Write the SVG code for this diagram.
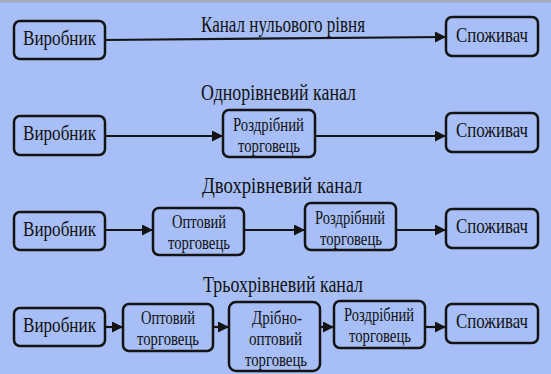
<svg xmlns="http://www.w3.org/2000/svg" width="551" height="374" viewBox="0 0 551 374">
<defs>
<style>
.bx{fill:#a7bff6;stroke:#141414;stroke-width:2.5}
.h{font-family:"Liberation Serif","DejaVu Serif",serif;fill:#111;font-size:23px}
.t{font-family:"Liberation Serif","DejaVu Serif",serif;fill:#111;font-size:22px}
.s{font-family:"Liberation Serif","DejaVu Serif",serif;fill:#111;font-size:19px}
.ln{stroke:#141414;stroke-width:2.2;fill:none}
</style>
<marker id="ah" viewBox="0 0 10 10" refX="10" refY="5" markerWidth="5.5" markerHeight="5" markerUnits="strokeWidth" orient="auto">
<path d="M0,0 L10,5 L0,10 Z" fill="#141414"/>
</marker>
</defs>
<rect width="551" height="374" fill="#a7bff6"/>
<rect width="551" height="2.5" fill="#a2a8b8"/>

<g id="titles">
<text class="h" x="201" y="32" textLength="164" lengthAdjust="spacingAndGlyphs">Канал нульового рівня</text>
<text class="h" x="201" y="100" textLength="155" lengthAdjust="spacingAndGlyphs">Однорівневий канал</text>
<text class="h" x="202" y="193" textLength="160" lengthAdjust="spacingAndGlyphs">Двохрівневий канал</text>
<text class="h" x="203" y="292" textLength="160" lengthAdjust="spacingAndGlyphs">Трьохрівневий канал</text>
</g>

<g id="connectors">
<line class="ln" x1="105" y1="40" x2="446" y2="37" marker-end="url(#ah)"/>
<line class="ln" x1="105" y1="136" x2="223" y2="136" marker-end="url(#ah)"/>
<line class="ln" x1="315" y1="136" x2="446" y2="136" marker-end="url(#ah)"/>
<line class="ln" x1="105" y1="230" x2="153" y2="230" marker-end="url(#ah)"/>
<line class="ln" x1="244" y1="230" x2="305" y2="230" marker-end="url(#ah)"/>
<line class="ln" x1="396" y1="230" x2="446" y2="230" marker-end="url(#ah)"/>
<line class="ln" x1="105" y1="327" x2="123" y2="327" marker-end="url(#ah)"/>
<line class="ln" x1="213" y1="327" x2="229" y2="327" marker-end="url(#ah)"/>
<line class="ln" x1="320" y1="327" x2="334" y2="327" marker-end="url(#ah)"/>
<line class="ln" x1="425" y1="327" x2="446" y2="327" marker-end="url(#ah)"/>
</g>

<!-- Row 1 -->
<g id="r1-producer">
<rect class="bx" x="14" y="21" width="91" height="38" rx="6"/>
<text class="t" x="23" y="44.5" textLength="73" lengthAdjust="spacingAndGlyphs">Виробник</text>
</g>
<g id="r1-consumer">
<rect class="bx" x="446" y="17" width="92" height="39" rx="6"/>
<text class="t" x="456" y="41.5" textLength="72" lengthAdjust="spacingAndGlyphs">Споживач</text>
</g>

<!-- Row 2 -->
<g id="r2-producer">
<rect class="bx" x="14" y="116" width="91" height="39" rx="6"/>
<text class="t" x="23" y="139.5" textLength="73" lengthAdjust="spacingAndGlyphs">Виробник</text>
</g>
<g id="r2-retail">
<rect class="bx" x="223" y="110" width="92" height="47" rx="6"/>
<text class="s" x="233" y="131" textLength="71" lengthAdjust="spacingAndGlyphs">Роздрібний</text>
<text class="s" x="238" y="152" textLength="62" lengthAdjust="spacingAndGlyphs">торговець</text>
</g>
<g id="r2-consumer">
<rect class="bx" x="446" y="113" width="92" height="39" rx="6"/>
<text class="t" x="456" y="136.5" textLength="72" lengthAdjust="spacingAndGlyphs">Споживач</text>
</g>

<!-- Row 3 -->
<g id="r3-producer">
<rect class="bx" x="14" y="212" width="91" height="38" rx="6"/>
<text class="t" x="23" y="235.5" textLength="73" lengthAdjust="spacingAndGlyphs">Виробник</text>
</g>
<g id="r3-wholesale">
<rect class="bx" x="153" y="208" width="91" height="47" rx="6"/>
<text class="s" x="172" y="228" textLength="54" lengthAdjust="spacingAndGlyphs">Оптовий</text>
<text class="s" x="168" y="249" textLength="62" lengthAdjust="spacingAndGlyphs">торговець</text>
</g>
<g id="r3-retail">
<rect class="bx" x="305" y="203" width="91" height="47" rx="6"/>
<text class="s" x="315" y="224" textLength="70" lengthAdjust="spacingAndGlyphs">Роздрібний</text>
<text class="s" x="320" y="245" textLength="62" lengthAdjust="spacingAndGlyphs">торговець</text>
</g>
<g id="r3-consumer">
<rect class="bx" x="446" y="209" width="92" height="39" rx="6"/>
<text class="t" x="456" y="232.5" textLength="72" lengthAdjust="spacingAndGlyphs">Споживач</text>
</g>

<!-- Row 4 -->
<g id="r4-producer">
<rect class="bx" x="14" y="308" width="91" height="38" rx="6"/>
<text class="t" x="23" y="331.5" textLength="73" lengthAdjust="spacingAndGlyphs">Виробник</text>
</g>
<g id="r4-wholesale">
<rect class="bx" x="123" y="304" width="90" height="47" rx="6"/>
<text class="s" x="141" y="324" textLength="54" lengthAdjust="spacingAndGlyphs">Оптовий</text>
<text class="s" x="137" y="345" textLength="62" lengthAdjust="spacingAndGlyphs">торговець</text>
</g>
<g id="r4-smallwholesale">
<rect class="bx" x="229" y="302" width="91" height="69" rx="7"/>
<text class="s" x="252" y="324" textLength="50" lengthAdjust="spacingAndGlyphs">Дрібно-</text>
<text class="s" x="249" y="345" textLength="53" lengthAdjust="spacingAndGlyphs">оптовий</text>
<text class="s" x="245" y="366" textLength="62" lengthAdjust="spacingAndGlyphs">торговець</text>
</g>
<g id="r4-retail">
<rect class="bx" x="334" y="301" width="91" height="47" rx="6"/>
<text class="s" x="344" y="321" textLength="70" lengthAdjust="spacingAndGlyphs">Роздрібний</text>
<text class="s" x="349" y="342" textLength="62" lengthAdjust="spacingAndGlyphs">торговець</text>
</g>
<g id="r4-consumer">
<rect class="bx" x="446" y="304" width="92" height="39" rx="6"/>
<text class="t" x="456" y="327.5" textLength="72" lengthAdjust="spacingAndGlyphs">Споживач</text>
</g>
</svg>
